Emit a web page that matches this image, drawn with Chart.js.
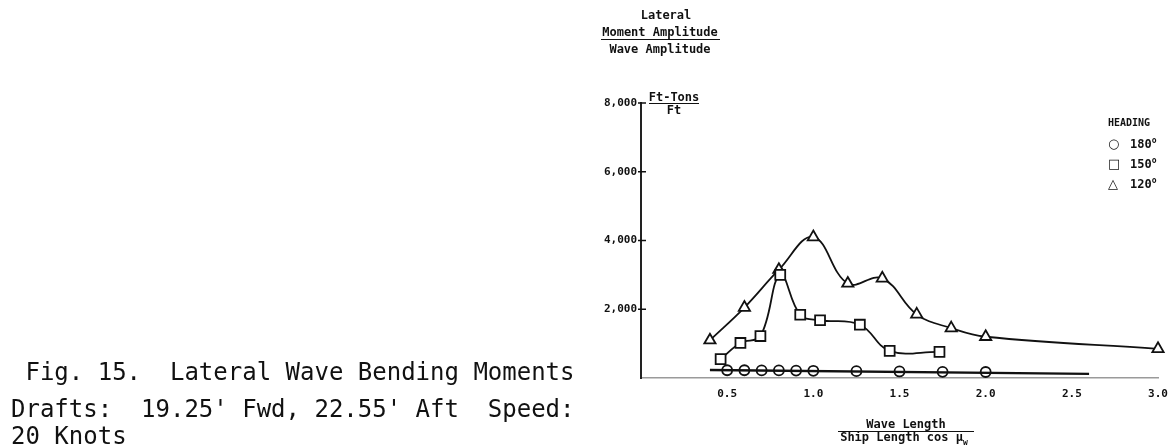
<!DOCTYPE html>
<html>
<head>
<meta charset="utf-8">
<title>Lateral Wave Bending Moments</title>
<script src="https://cdn.jsdelivr.net/npm/chart.js@4.4.1/dist/chart.umd.min.js"></script>
<style>
  html, body { margin: 0; padding: 0; background: #fff; }
  #wrap { position: relative; width: 1170px; height: 447px; overflow: hidden; }
  #chart { position: absolute; left: 0; top: 0; }
  .lbl { position: absolute; font-family: "DejaVu Sans Mono", monospace; font-weight: bold;
         font-size: 12px; color: #111; white-space: nowrap; line-height: 1; }
  .ctr { transform: translate(-50%, -50%); }
  .mid { transform: translateY(-50%); }
  .rule { position: absolute; height: 0; border-top: 1.5px solid #111; }
  .cap { position: absolute; font-family: "DejaVu Sans Mono", monospace; font-size: 24px;
         color: #111; white-space: pre; line-height: 1; }
  .deg { font-size: 8px; vertical-align: 5px; }
  .sym { display: inline-block; width: 22px; font-family: "DejaVu Sans", sans-serif; font-size: 13px; }
</style>
</head>
<body>
<div id="wrap">
  <canvas id="chart" width="1170" height="447"></canvas>

  <!-- vertical axis title -->
  <div class="lbl ctr" style="left:666px; top:15px;">Lateral</div>
  <div class="lbl ctr" style="left:660px; top:32px;">Moment Amplitude</div>
  <div class="rule" style="left:601px; top:39px; width:119px;"></div>
  <div class="lbl ctr" style="left:660px; top:49px;">Wave Amplitude</div>

  <!-- units -->
  <div class="lbl ctr" style="left:674px; top:97px;">Ft-Tons</div>
  <div class="rule" style="left:649px; top:103px; width:50px;"></div>
  <div class="lbl ctr" style="left:674px; top:110px;">Ft</div>

  <!-- horizontal axis title -->
  <div class="lbl ctr" style="left:906px; top:424px;">Wave Length</div>
  <div class="rule" style="left:838px; top:431px; width:136px;"></div>
  <div class="lbl ctr" style="left:904px; top:439px;">Ship Length cos μ<sub style="font-size:8px;">w</sub></div>

  <!-- legend -->
  <div class="lbl mid" style="left:1108px; top:123px; font-size:10px;">HEADING</div>
  <div class="lbl mid" style="left:1108px; top:143px;"><span class="sym">○</span>180<span class="deg">o</span></div>
  <div class="lbl mid" style="left:1108px; top:163px;"><span class="sym">□</span>150<span class="deg">o</span></div>
  <div class="lbl mid" style="left:1108px; top:183px;"><span class="sym">△</span>120<span class="deg">o</span></div>

  <!-- caption -->
  <div class="cap" style="left:11px; top:360px;"> Fig. 15.  Lateral Wave Bending Moments</div>
  <div class="cap" style="left:11px; top:397px;">Drafts:  19.25' Fwd, 22.55' Aft  Speed:</div>
  <div class="cap" style="left:11px; top:424px;">20 Knots</div>
</div>

<script>
// Wave length / (ship length * cos mu_w) for each heading, and the measured moment (ft-tons/ft)
const heading180X = [0.5, 0.6, 0.7, 0.8, 0.9, 1.0, 1.25, 1.5, 1.75, 2.0];
const heading180Y = [225, 225, 220, 220, 215, 210, 200, 190, 180, 175];
// faired line drawn through the 180 deg points
const fair180X = [0.4, 2.6];
const fair180Y = [230, 120];

const heading150X = [0.462, 0.577, 0.693, 0.808, 0.924, 1.039, 1.270, 1.443, 1.732];
const heading150Y = [550, 1020, 1220, 3000, 1840, 1680, 1550, 790, 760];

const heading120X = [0.4, 0.6, 0.8, 1.0, 1.2, 1.4, 1.6, 1.8, 2.0, 3.0];
const heading120Y = [1100, 2050, 3150, 4100, 2750, 2900, 1850, 1450, 1200, 850];

// axis ticks
const xTicks = [0.5, 1.0, 1.5, 2.0, 2.5, 3.0];
const yTicks = [2000, 4000, 6000, 8000];

const pts = (xs, ys) => xs.map((x, i) => ({ x: x, y: ys[i] }));

const INK = '#111';
const tickFont = { family: '"DejaVu Sans Mono", monospace', weight: 'bold', size: 11 };

// short tick marks crossing the vertical axis
const yTickMarks = {
  id: 'yTickMarks',
  afterDraw(chart) {
    const s = chart.scales.y, ctx = chart.ctx;
    ctx.save();
    ctx.strokeStyle = INK;
    ctx.lineWidth = 1.5;
    yTicks.forEach(v => {
      const py = s.getPixelForValue(v);
      ctx.beginPath();
      ctx.moveTo(s.right - 3, py);
      ctx.lineTo(s.right + 5, py);
      ctx.stroke();
    });
    ctx.restore();
  }
};

new Chart(document.getElementById('chart'), {
  type: 'scatter',
  data: {
    datasets: [
      {
        label: '180',
        data: pts(heading180X, heading180Y),
        showLine: false, pointStyle: 'circle', pointRadius: 5,
        pointBackgroundColor: 'rgba(0,0,0,0)', pointBorderColor: INK, pointBorderWidth: 1.8, clip: false
      },
      {
        label: '180 fair',
        data: pts(fair180X, fair180Y),
        showLine: true, borderColor: INK, borderWidth: 2.5, pointRadius: 0, clip: false
      },
      {
        label: '150',
        data: pts(heading150X, heading150Y),
        showLine: true, tension: 0.4, borderColor: INK, borderWidth: 1.8,
        pointStyle: 'rect', pointRadius: 7,
        pointBackgroundColor: '#fff', pointBorderColor: INK, pointBorderWidth: 1.8, clip: false
      },
      {
        // centre dots inside the square symbols
        label: '150 dots',
        data: pts(heading150X, heading150Y),
        showLine: false, pointStyle: 'circle', pointRadius: 1,
        pointBackgroundColor: INK, pointBorderWidth: 0, clip: false
      },
      {
        label: '120',
        data: pts(heading120X, heading120Y),
        showLine: true, tension: 0.4, borderColor: INK, borderWidth: 1.8,
        pointStyle: 'triangle', pointRadius: 6.5,
        pointBackgroundColor: '#fff', pointBorderColor: INK, pointBorderWidth: 1.8, clip: false
      }
    ]
  },
  options: {
    responsive: false,
    animation: false,
    layout: { padding: { left: 579, right: 12, top: 103, bottom: 39 } },
    plugins: { legend: { display: false }, tooltip: { enabled: false } },
    scales: {
      x: {
        type: 'linear', min: 0, max: 3,
        afterFit(s) { s.height = 30; s.paddingLeft = 0; s.paddingRight = 0; },
        afterBuildTicks(s) { s.ticks = xTicks.map(v => ({ value: v })); },
        border: { display: true, color: '#9a9a9a', width: 1.5 },
        grid: { display: false, drawTicks: false },
        ticks: {
          callback: v => Number(v).toFixed(1),
          font: tickFont, color: INK, padding: 10, maxRotation: 0, autoSkip: false
        }
      },
      y: {
        type: 'linear', min: 0, max: 8000,
        afterFit(s) { s.width = 62; s.paddingTop = 0; s.paddingBottom = 0; },
        afterBuildTicks(s) { s.ticks = yTicks.map(v => ({ value: v })); },
        border: { display: true, color: '#222', width: 2 },
        grid: { display: false, drawTicks: false },
        ticks: {
          callback: v => Number(v).toLocaleString('en-US'),
          font: tickFont, color: INK, padding: 4, autoSkip: false
        }
      }
    }
  },
  plugins: [yTickMarks]
});
</script>
</body>
</html>
